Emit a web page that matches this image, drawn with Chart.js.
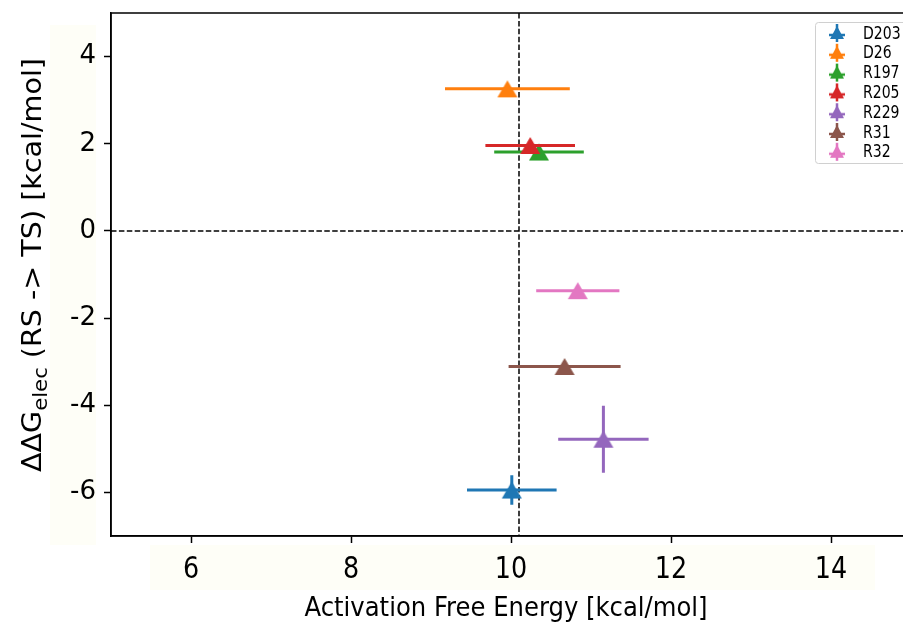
<!DOCTYPE html>
<html>
<head>
<meta charset="utf-8">
<script src="https://cdn.jsdelivr.net/npm/chart.js@4.4.1/dist/chart.umd.min.js"></script>
<style>
  html, body { margin: 0; padding: 0; background: #fff; overflow: hidden; }
  #wrap { width: 922px; height: 622px; }
</style>
</head>
<body>
<div id="wrap"><canvas id="myChart" width="922" height="622"></canvas></div>
<script>
// residues and their energies (kcal/mol)
var residues = ["D203", "D26", "R197", "R205", "R229", "R31", "R32"];
var activation = [10.01, 9.955, 10.35, 10.24, 11.155, 10.67, 10.835];
var deltaElec = [-5.945, 3.26, 1.81, 1.96, -4.78, -3.11, -1.37];
var activationErr = [0.56, 0.78, 0.56, 0.56, 0.565, 0.70, 0.52];
var deltaElecErr = [0.34, 0, 0, 0, 0.77, 0, 0];
var colors = ["#1f77b4", "#ff7f0e", "#2ca02c", "#d62728", "#9467bd", "#8c564b", "#e377c2"];

var xTicks = [6, 8, 10, 12, 14];
var yTicks = [-6, -4, -2, 0, 2, 4];
var refActivation = 10.1;
var refElec = 0;

var sans = "'DejaVu Sans', sans-serif";

// text squeezed horizontally to look condensed
function narrowText(ctx, text, x, y, sx, align) {
  ctx.save();
  ctx.translate(x, y);
  ctx.scale(sx, 1);
  ctx.textAlign = align || "left";
  ctx.fillText(text, 0, 0);
  ctx.restore();
}

// triangle marker drawn once per colour
function triangle(color, w, h) {
  var c = document.createElement("canvas");
  c.width = w + 2;
  c.height = h + 2;
  var g = c.getContext("2d");
  g.fillStyle = color;
  g.beginPath();
  g.moveTo(c.width / 2, 1);
  g.lineTo(w + 1, h + 1);
  g.lineTo(1, h + 1);
  g.closePath();
  g.fill();
  return c;
}

// legend handle: errorbar cross with triangle on top
function legendHandle(color) {
  var c = document.createElement("canvas");
  c.width = 18;
  c.height = 20;
  var g = c.getContext("2d");
  g.strokeStyle = color;
  g.lineWidth = 2.5;
  g.beginPath();
  g.moveTo(1, 12);
  g.lineTo(17, 12);
  g.moveTo(9, 1);
  g.lineTo(9, 19);
  g.stroke();
  g.fillStyle = color;
  g.beginPath();
  g.moveTo(9, 3);
  g.lineTo(16, 16);
  g.lineTo(2, 16);
  g.closePath();
  g.fill();
  return c;
}

var datasets = residues.map(function (name, i) {
  return {
    label: name,
    data: [{ x: activation[i], y: deltaElec[i] }],
    pointStyle: triangle(colors[i], 20, 17),
    backgroundColor: colors[i],
    borderColor: colors[i],
    order: residues.length - i,
  };
});

var backdrop = {
  id: "backdrop",
  beforeDraw: function (chart) {
    var ctx = chart.ctx;
    ctx.save();
    ctx.fillStyle = "#ffffff";
    ctx.fillRect(0, 0, chart.width, chart.height);
    // faint tint behind the tick labels
    ctx.fillStyle = "#fefef7";
    ctx.fillRect(50, 25, 46, 520);
    ctx.fillRect(150, 545, 725, 45);
    ctx.restore();
  },
};

var guides = {
  id: "guides",
  beforeDatasetsDraw: function (chart) {
    var ctx = chart.ctx, a = chart.chartArea;
    var px = chart.scales.x.getPixelForValue(refActivation);
    var py = chart.scales.y.getPixelForValue(refElec);
    ctx.save();
    ctx.strokeStyle = "#000";
    ctx.lineWidth = 1.5;
    ctx.setLineDash([5.5, 2.4]);
    ctx.beginPath();
    ctx.moveTo(px, a.top);
    ctx.lineTo(px, a.bottom);
    ctx.moveTo(a.left, py);
    ctx.lineTo(a.right, py);
    ctx.stroke();
    ctx.restore();
  },
};

var errorBars = {
  id: "errorBars",
  beforeDatasetDraw: function (chart, args) {
    var i = args.index;
    var xs = chart.scales.x, ys = chart.scales.y, ctx = chart.ctx;
    var cx = xs.getPixelForValue(activation[i]);
    var cy = ys.getPixelForValue(deltaElec[i]);
    ctx.save();
    ctx.strokeStyle = colors[i];
    ctx.lineWidth = 3;
    ctx.beginPath();
    ctx.moveTo(xs.getPixelForValue(activation[i] - activationErr[i]), cy);
    ctx.lineTo(xs.getPixelForValue(activation[i] + activationErr[i]), cy);
    if (deltaElecErr[i] > 0) {
      ctx.moveTo(cx, ys.getPixelForValue(deltaElec[i] + deltaElecErr[i]));
      ctx.lineTo(cx, ys.getPixelForValue(deltaElec[i] - deltaElecErr[i]));
    }
    ctx.stroke();
    ctx.restore();
  },
};

// frame, x tick labels, axis titles and legend box
var decorations = {
  id: "decorations",
  afterDraw: function (chart) {
    var ctx = chart.ctx, a = chart.chartArea;
    ctx.save();
    ctx.strokeStyle = "#000";
    ctx.lineWidth = 1.5;
    ctx.strokeRect(a.left, a.top, a.right - a.left, a.bottom - a.top);

    ctx.fillStyle = "#000";
    ctx.textBaseline = "alphabetic";

    // x tick labels
    var xs = chart.scales.x;
    ctx.font = "31px " + sans;
    xs.ticks.forEach(function (t) {
      narrowText(ctx, String(t.value), xs.getPixelForValue(t.value), 578, 0.82, "center");
    });

    // x title
    ctx.font = "27px " + sans;
    var xt = "Activation Free Energy [kcal/mol]";
    var w = ctx.measureText(xt).width;
    narrowText(ctx, xt, 506, 616, 403 / w, "center");

    // y title with subscript
    var parts = [
      { t: "\u0394\u0394G", f: "27px " + sans, dy: 0 },
      { t: "elec", f: "20px " + sans, dy: 6 },
      { t: " (RS -> TS) [kcal/mol]", f: "27px " + sans, dy: 0 },
    ];
    var total = 0;
    parts.forEach(function (p) { ctx.font = p.f; p.w = ctx.measureText(p.t).width; total += p.w; });
    ctx.save();
    ctx.translate(41, 265);
    ctx.rotate(-Math.PI / 2);
    ctx.scale(414 / total, 1);
    ctx.textAlign = "left";
    var x = -total / 2;
    parts.forEach(function (p) {
      ctx.font = p.f;
      ctx.fillText(p.t, x, p.dy);
      x += p.w;
    });
    ctx.restore();

    // legend
    var lx = 815, ly = 22;
    ctx.fillStyle = "rgba(255,255,255,0.8)";
    ctx.strokeStyle = "#d0d0d0";
    ctx.lineWidth = 1;
    ctx.beginPath();
    ctx.roundRect(lx + 0.5, ly + 0.5, 120, 141, 3);
    ctx.fill();
    ctx.stroke();
    ctx.font = "18px " + sans;
    ctx.textBaseline = "middle";
    ctx.fillStyle = "#000";
    residues.forEach(function (name, i) {
      var y = ly + 11 + i * 19.8;
      var h = legendHandle(colors[i]);
      ctx.drawImage(h, 837 - h.width / 2, y - h.height / 2);
      narrowText(ctx, name, 863, y + 1, 0.78, "left");
    });
    ctx.restore();
  },
};

var ctx = document.getElementById("myChart").getContext("2d");
var myChart = new Chart(ctx, {
  type: "scatter",
  data: { datasets: datasets },
  options: {
    responsive: false,
    animation: false,
    devicePixelRatio: 1,
    layout: { padding: { top: 13, right: 9, left: 0, bottom: 0 } },
    elements: { point: { radius: 10, hoverRadius: 10 } },
    plugins: {
      legend: { display: false },
      tooltip: { enabled: false },
    },
    scales: {
      x: {
        type: "linear",
        min: 5,
        max: 15,
        afterBuildTicks: function (s) { s.ticks = xTicks.map(function (v) { return { value: v }; }); },
        afterFit: function (s) { s.height = 86; s.paddingLeft = 0; s.paddingRight = 0; },
        grid: { drawOnChartArea: false, tickLength: 7, tickColor: "#000", tickWidth: 1.5 },
        border: { display: true, color: "#000", width: 1.5 },
        ticks: { display: false },
      },
      y: {
        type: "linear",
        min: -7,
        max: 5,
        afterBuildTicks: function (s) { s.ticks = yTicks.map(function (v) { return { value: v }; }); },
        afterFit: function (s) { s.width = 111; s.paddingTop = 0; s.paddingBottom = 0; },
        grid: { drawOnChartArea: false, tickLength: 7, tickColor: "#000", tickWidth: 1.5 },
        border: { display: true, color: "#000", width: 1.5 },
        ticks: { color: "#000", font: { size: 26, family: sans }, padding: 8 },
      },
    },
  },
  plugins: [backdrop, guides, errorBars, decorations],
});
</script>
</body>
</html>
